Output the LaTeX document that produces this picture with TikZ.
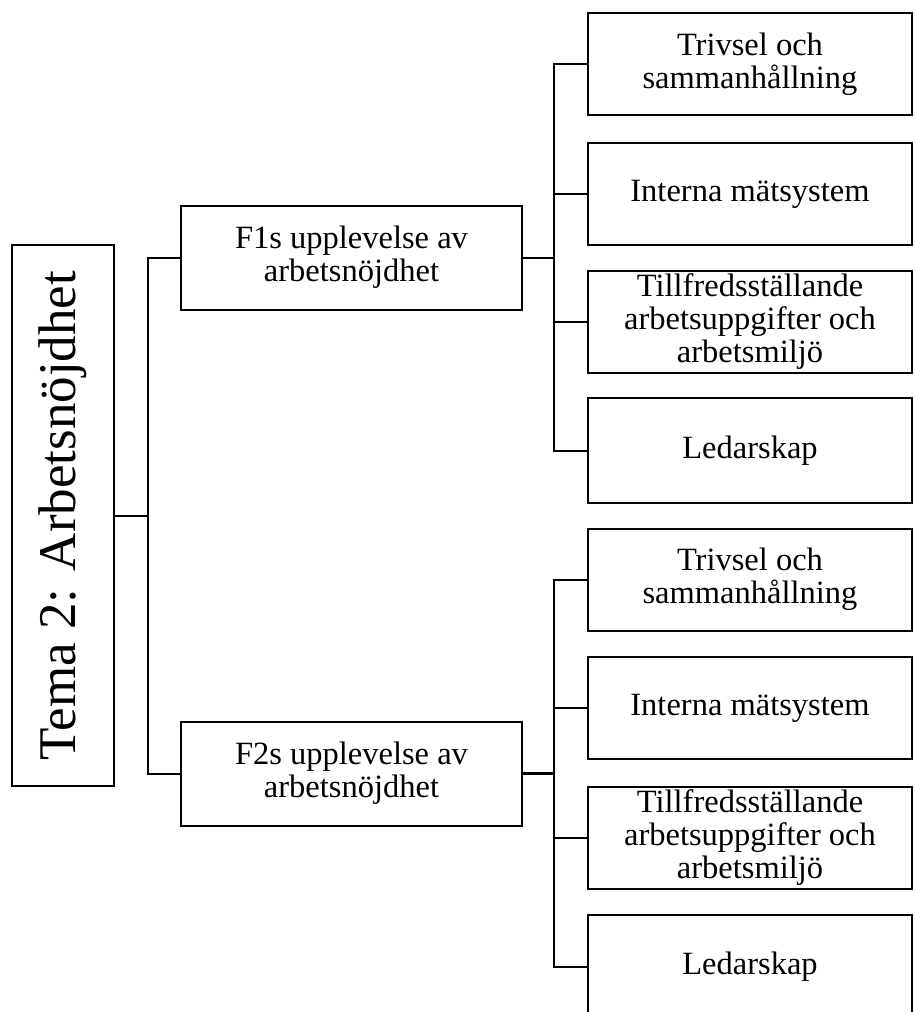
\documentclass[tikz,border=0pt]{standalone}
\usepackage{fontspec}
\setmainfont{Liberation Serif}
\begin{document}
\begin{tikzpicture}[x=1pt,y=-1pt,
  box/.style={draw, line width=2pt, align=center, inner sep=0pt,
    font=\fontsize{32.5}{33}\selectfont},
  topic/.style={box, minimum width=341, minimum height=104},
  leaf/.style={box, minimum width=324, minimum height=102},
  link/.style={line width=2pt},
  boldlink/.style={line width=2.8pt}]
\useasboundingbox (0,0) rectangle (915,1012);
\clip (0,0) rectangle (915,1012);

% theme box, text running bottom to top
\node[box, rotate=90, minimum width=541, minimum height=102,
      font=\fontsize{53}{56}\selectfont] (tema) at (63,515.5) {Tema 2: Arbetsnöjdhet};

% respondents
\node[topic] (f1) at (351.5,257.5) {F1s upplevelse av\\arbetsnöjdhet};
\node[topic] (f2) at (351.5,773.5) {F2s upplevelse av\\arbetsnöjdhet};

% sub-themes for F1
\node[leaf] (a1) at (750,64)  {Trivsel och\\sammanhållning};
\node[leaf] (a2) at (750,194) {Interna mätsystem};
\node[leaf] (a3) at (750,322) {Tillfredsställande\\arbetsuppgifter och\\arbetsmiljö};
\node[leaf, minimum height=105] (a4) at (750,450.5) {Ledarskap};

% sub-themes for F2
\node[leaf] (b1) at (750,579.5) {Trivsel och\\sammanhållning};
\node[leaf] (b2) at (750,708)   {Interna mätsystem};
\node[leaf] (b3) at (750,838)   {Tillfredsställande\\arbetsuppgifter och\\arbetsmiljö};
\node[leaf, minimum height=103] (b4) at (750,966.5) {Ledarskap};

% left bracket
\coordinate (lb) at (148,0);
\draw[link] (f1.west) -- (f1.west -| lb) -- (f2.west -| lb) -- (f2.west);
\draw[link] (tema.south) -- (tema.south -| lb);

% right brackets
\coordinate (rb) at (554,0);
\draw[link] (f1.east) -- (f1.east -| rb);
\draw[link] (a1.west) -- (a1.west -| rb) -- (a4.west -| rb) -- (a4.west);
\draw[link] (a2.west) -- (a2.west -| rb);
\draw[link] (a3.west) -- (a3.west -| rb);

\draw[boldlink] (f2.east) -- (f2.east -| rb);
\draw[link] (b1.west) -- (b1.west -| rb) -- (b4.west -| rb) -- (b4.west);
\draw[link] (b2.west) -- (b2.west -| rb);
\draw[link] (b3.west) -- (b3.west -| rb);
\end{tikzpicture}
\end{document}
